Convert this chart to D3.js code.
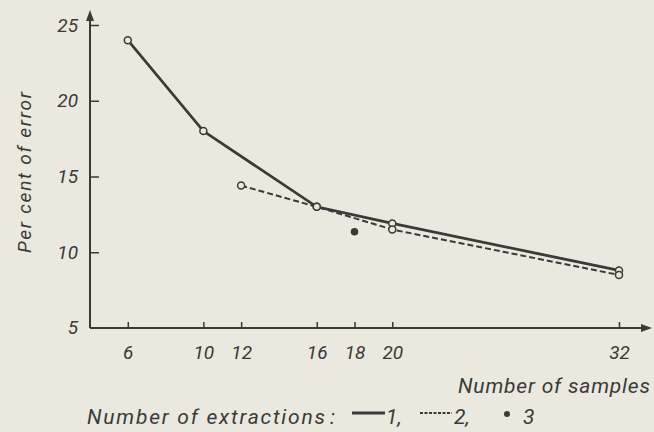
<!DOCTYPE html>
<html>
<head>
<meta charset="utf-8">
<script src="https://cdn.jsdelivr.net/npm/d3@7"></script>
<style>
  html, body { margin: 0; padding: 0; background: #ebe8df; }
  svg { display: block; }
  text { font-family: Roboto, "DejaVu Sans", sans-serif; font-style: italic; fill: #3a3a38; }
</style>
</head>
<body>
<svg id="chart"></svg>
<script>
(function() {
    const width = 654;
    const height = 432;

    // --- DATA ---
    const xTicks = [6, 10, 12, 16, 18, 20, 32];
    const yTicks = [5, 10, 15, 20, 25];
    const oneX = [6, 10, 16, 20, 32];
    const oneY = [24, 18, 13, 11.9, 8.8];
    const twoX = [12, 16, 20, 32];
    const twoY = [14.4, 13, 11.5, 8.5];
    const threeX = [18];
    const threeY = [11.35];
    const xLabel = "Number of samples";
    const yLabel = "Per cent of error";
    const legendTitle = "Number of extractions";
    const legendNames = ["1", "2", "3"];

    const ink = "#3a3a38";
    const bg = "#ebe8df";

    const svg = d3.select("#chart")
        .attr("width", width)
        .attr("height", height);

    const x = d3.scaleLinear().domain([4, 32]).range([90, 619]);
    const y = d3.scaleLinear().domain([5, 25]).range([328, 25]);

    // --- AXES ---
    const yAxis = svg.append("g")
        .attr("transform", `translate(${x(4)},0)`)
        .call(d3.axisLeft(y).tickValues(yTicks.slice(1)).tickSizeInner(-9).tickSizeOuter(0).tickPadding(12));
    yAxis.select(".domain").remove();
    yAxis.selectAll("line").attr("stroke", ink).attr("stroke-width", 1.5);
    yAxis.selectAll("text").style("font-size", "19px").attr("fill", ink)
        .attr("font-family", null);

    // "5" label sits at the corner
    svg.append("text")
        .attr("x", x(4) - 12).attr("y", y(5)).attr("dy", "0.32em")
        .attr("text-anchor", "end").style("font-size", "19px").text(yTicks[0]);

    const xAxis = svg.append("g")
        .attr("transform", `translate(0,${y(5)})`)
        .call(d3.axisBottom(x).tickValues(xTicks).tickSizeInner(-6).tickSizeOuter(0).tickPadding(18));
    xAxis.select(".domain").remove();
    xAxis.selectAll("line").attr("stroke", ink).attr("stroke-width", 1.5);
    xAxis.selectAll("text").style("font-size", "19px").attr("fill", ink)
        .attr("font-family", null);

    // axis lines with arrow heads
    svg.append("path")
        .attr("d", `M${x(4)},${y(5)}V16M${x(4)},${y(5)}H644`)
        .attr("fill", "none").attr("stroke", ink).attr("stroke-width", 2);
    svg.append("path")
        .attr("d", `M${x(4)},10L${x(4) - 4},21L${x(4) + 4},21Z`)
        .attr("fill", ink);
    svg.append("path")
        .attr("d", `M652,${y(5)}L641,${y(5) - 4}L641,${y(5) + 4}Z`)
        .attr("fill", ink);

    svg.append("text")
        .attr("x", 458).attr("y", 393)
        .attr("textLength", 192).attr("lengthAdjust", "spacing")
        .style("font-size", "21px")
        .text(xLabel);

    svg.append("text")
        .attr("transform", `translate(31,253) rotate(-90)`)
        .attr("textLength", 161).attr("lengthAdjust", "spacing")
        .style("font-size", "19px")
        .text(yLabel);

    // --- SERIES ---
    const line = d3.line().x(d => x(d[0])).y(d => y(d[1]));
    const one = oneX.map((v, i) => [v, oneY[i]]);
    const two = twoX.map((v, i) => [v, twoY[i]]);
    const three = threeX.map((v, i) => [v, threeY[i]]);

    svg.append("path").datum(two).attr("d", line)
        .attr("fill", "none").attr("stroke", ink).attr("stroke-width", 2)
        .attr("stroke-dasharray", "6,3");
    svg.append("path").datum(one).attr("d", line)
        .attr("fill", "none").attr("stroke", ink).attr("stroke-width", 2.8);

    svg.append("g").selectAll("circle")
        .data(one.concat(two))
        .join("circle")
        .attr("cx", d => x(d[0])).attr("cy", d => y(d[1]))
        .attr("r", 3.5)
        .attr("fill", bg).attr("stroke", ink).attr("stroke-width", 1.5);

    svg.append("g").selectAll("circle")
        .data(three)
        .join("circle")
        .attr("cx", d => x(d[0])).attr("cy", d => y(d[1]))
        .attr("r", 3.8)
        .attr("fill", ink);

    // --- LEGEND ---
    const lg = svg.append("g").style("font-size", "21px");
    const baseY = 424;
    const markY = baseY - 11;
    lg.append("text").attr("x", 87).attr("y", baseY)
        .attr("textLength", 238).attr("lengthAdjust", "spacing")
        .text(legendTitle);
    lg.append("text").attr("x", 330).attr("y", baseY).text(":");
    lg.append("line").attr("x1", 352).attr("x2", 385).attr("y1", markY).attr("y2", markY)
        .attr("stroke", ink).attr("stroke-width", 2.8);
    lg.append("text").attr("x", 386).attr("y", baseY).text(legendNames[0] + ",");
    lg.append("line").attr("x1", 420).attr("x2", 452).attr("y1", markY).attr("y2", markY)
        .attr("stroke", ink).attr("stroke-width", 2).attr("stroke-dasharray", "3,1.5");
    lg.append("text").attr("x", 454).attr("y", baseY).text(legendNames[1] + ",");
    lg.append("circle").attr("cx", 507).attr("cy", markY + 1).attr("r", 3).attr("fill", ink);
    lg.append("text").attr("x", 523).attr("y", baseY).text(legendNames[2]);
})();
</script>
</body>
</html>
